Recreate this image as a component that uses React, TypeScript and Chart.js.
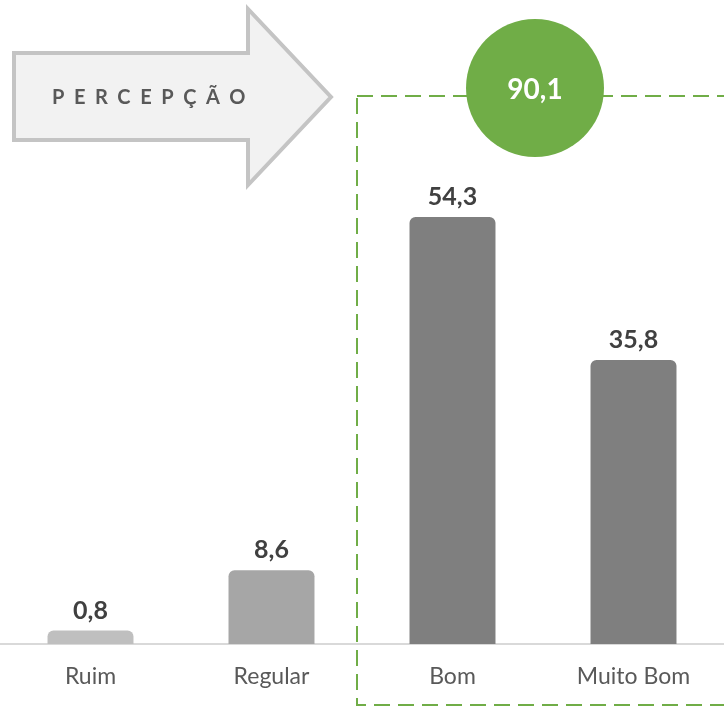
import { useEffect, useRef } from "react";
import { Chart, registerables } from "chart.js";

Chart.register(...registerables);

const categories = ["Ruim", "Regular", "Bom", "Muito Bom"];
const percentages = [0.8, 8.6, 54.3, 35.8];
const barColors = ["#bfbfbf", "#a6a6a6", "#7f7f7f", "#7f7f7f"];
// Categories summed into the green badge
const positiveGroup = [2, 3];
const headline = "PERCEPÇÃO";

const FONT = "Lato, 'Open Sans', sans-serif";
const GREEN = "#70ad47";
const Y_MIN = -0.944;
const Y_MAX = 82.37;

const fmt = (v: number) => v.toFixed(1).replace(".", ",");

const decorations = {
  id: "decorations",
  afterDatasetsDraw(chart: any) {
    const ctx = chart.ctx as CanvasRenderingContext2D;
    const meta = chart.getDatasetMeta(0);
    ctx.save();
    ctx.font = `bold 25px ${FONT}`;
    ctx.fillStyle = "#404040";
    ctx.textAlign = "center";
    ctx.textBaseline = "alphabetic";
    meta.data.forEach((bar: any, i: number) => {
      ctx.fillText(fmt(percentages[i]), bar.x, bar.y - 12);
    });
    ctx.restore();
  },
  afterDraw(chart: any) {
    const ctx = chart.ctx as CanvasRenderingContext2D;
    ctx.save();

    // dashed frame around the positive group
    ctx.strokeStyle = GREEN;
    ctx.lineWidth = 2;
    ctx.setLineDash([16, 8]);
    ctx.strokeRect(357, 96, 420, 609);
    ctx.setLineDash([]);

    // arrow with the headline
    ctx.beginPath();
    ctx.moveTo(14, 53);
    ctx.lineTo(248, 53);
    ctx.lineTo(248, 9);
    ctx.lineTo(331, 97);
    ctx.lineTo(248, 185);
    ctx.lineTo(248, 140);
    ctx.lineTo(14, 140);
    ctx.closePath();
    ctx.fillStyle = "#f2f2f2";
    ctx.fill();
    ctx.strokeStyle = "#c4c4c4";
    ctx.lineWidth = 4;
    ctx.lineJoin = "miter";
    ctx.stroke();

    ctx.fillStyle = "#595959";
    ctx.font = `bold 20px ${FONT}`;
    (ctx as any).letterSpacing = "9.6px";
    ctx.textAlign = "left";
    ctx.textBaseline = "alphabetic";
    ctx.fillText(headline, 52, 104);
    (ctx as any).letterSpacing = "0px";

    // badge with the group total
    const total = positiveGroup.reduce((s, i) => s + percentages[i], 0);
    ctx.beginPath();
    ctx.arc(535, 88, 69, 0, Math.PI * 2);
    ctx.fillStyle = GREEN;
    ctx.fill();
    ctx.fillStyle = "#ffffff";
    ctx.font = `bold 28px ${FONT}`;
    ctx.textAlign = "center";
    ctx.fillText(fmt(total), 535, 99);

    ctx.restore();
  },
};

export default function App() {
  const canvasRef = useRef<HTMLCanvasElement | null>(null);

  useEffect(() => {
    if (!canvasRef.current) return;
    const chart = new Chart(canvasRef.current, {
      type: "bar",
      data: {
        labels: categories,
        datasets: [
          {
            data: percentages,
            backgroundColor: barColors,
            borderRadius: { topLeft: 6, topRight: 6, bottomLeft: 0, bottomRight: 0 },
            borderSkipped: false,
            base: Y_MIN,
            barPercentage: 0.475,
            categoryPercentage: 1,
          } as any,
        ],
      },
      options: {
        animation: false,
        responsive: false,
        layout: { padding: 0 },
        plugins: {
          legend: { display: false },
          tooltip: { enabled: false },
        },
        scales: {
          x: {
            grid: { display: false, drawTicks: false },
            border: { display: true, color: "#d9d9d9", width: 2 },
            ticks: {
              color: "#595959",
              font: { family: FONT, size: 23 },
              padding: 19,
            },
            afterFit: (scale: any) => {
              scale.height = 63;
            },
          },
          y: {
            display: false,
            min: Y_MIN,
            max: Y_MAX,
          },
        },
      },
      plugins: [decorations],
    });
    return () => chart.destroy();
  }, []);

  return (
    <div style={{ position: "absolute", left: 0, top: 0, width: 724, height: 707, background: "#ffffff" }}>
      <canvas ref={canvasRef} width={724} height={707} style={{ display: "block" }} />
    </div>
  );
}
